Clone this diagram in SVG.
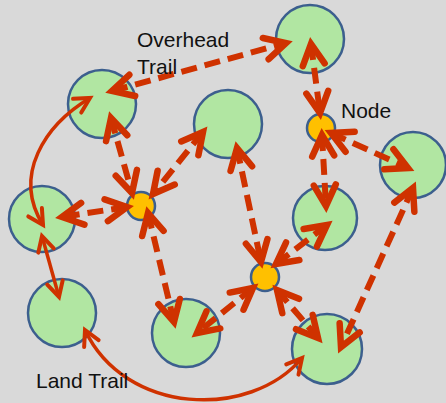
<svg xmlns="http://www.w3.org/2000/svg" width="446" height="403" viewBox="0 0 446 403">
  <defs>
    <style>
      .site { fill: #b1e6a2; stroke: #3c5f8e; stroke-width: 2.5; }
      .hub { fill: #ffc000; stroke: #3c5f8e; stroke-width: 2.5; }
      .dash { fill: none; stroke: #cf3200; stroke-width: 6; stroke-dasharray: 16 8; marker-start: url(#headBig); marker-end: url(#headBig); }
      .land { fill: none; stroke: #cf3200; stroke-width: 3.5; marker-start: url(#headSmall); marker-end: url(#headSmall); }
      .label { font-family: "Liberation Sans", Arial, sans-serif; font-size: 21px; fill: #111; }
    </style>
    <marker id="headBig" markerUnits="userSpaceOnUse" orient="auto-start-reverse" refX="0" refY="0" markerWidth="40" markerHeight="40" overflow="visible">
      <path d="M -21,-11 L 0,0 L -21,11" fill="none" stroke="#cf3200" stroke-width="6.5" stroke-linecap="round" stroke-linejoin="miter"/>
    </marker>
    <marker id="headSmall" markerUnits="userSpaceOnUse" orient="auto-start-reverse" refX="0" refY="0" markerWidth="30" markerHeight="30" overflow="visible">
      <path d="M -15,-8 L 0,0 L -15,8" fill="none" stroke="#cf3200" stroke-width="4" stroke-linecap="round" stroke-linejoin="miter"/>
    </marker>
  </defs>

  <rect width="446" height="403" fill="#d9d9d9"/>

  <!-- sites -->
  <g id="site-top-right"><circle class="site" cx="310" cy="39" r="34"/></g>
  <g id="site-upper-left"><circle class="site" cx="102" cy="104" r="34"/></g>
  <g id="site-upper-middle"><circle class="site" cx="228" cy="124" r="34"/></g>
  <g id="site-right"><circle class="site" cx="413" cy="165" r="33"/></g>
  <g id="site-left"><circle class="site" cx="42" cy="219" r="33"/></g>
  <g id="site-middle-right"><circle class="site" cx="325" cy="218" r="32"/></g>
  <g id="site-lower-left"><circle class="site" cx="62" cy="313" r="34"/></g>
  <g id="site-lower-middle"><circle class="site" cx="186" cy="333" r="34"/></g>
  <g id="site-lower-right"><circle class="site" cx="327" cy="349" r="35"/></g>

  <!-- hubs -->
  <g id="hub-left"><circle class="hub" cx="141" cy="206" r="14"/></g>
  <g id="hub-top"><circle class="hub" cx="321" cy="128" r="14"/></g>
  <g id="hub-bottom"><circle class="hub" cx="265" cy="277" r="14"/></g>

  <!-- trails -->
  <g id="connectors">
    <path class="dash" d="M 112,91 L 286,43"/>
    <path class="dash" d="M 311,44 L 320,113"/>
    <path class="dash" d="M 331,133 L 408,168"/>
    <path class="dash" d="M 322,135 L 326,206"/>
    <path class="dash" d="M 111,118 L 132,193"/>
    <path class="dash" d="M 203,132 L 153,194"/>
    <path class="dash" d="M 127,207 L 62,217"/>
    <path class="dash" d="M 148,213 L 174,322"/>
    <path class="dash" d="M 237,148 L 261,262"/>
    <path class="dash" d="M 327,225 L 276,264"/>
    <path class="dash" d="M 253,288 L 197,333"/>
    <path class="dash" d="M 277,290 L 318,338"/>
    <path class="dash" d="M 413,188 L 341,347"/>
    <path class="land" d="M 43,225 C 12,175 45,125 90,98"/>
    <path class="land" d="M 42,236 L 59,297"/>
    <path class="land" d="M 85,330 C 125,415 250,420 302,358"/>
  </g>

  <!-- captions -->
  <g id="labels">
    <text class="label" x="137" y="47">Overhead</text>
    <text class="label" x="137" y="74">Trail</text>
    <text class="label" x="341" y="118">Node</text>
    <text class="label" x="36" y="388">Land Trail</text>
  </g>
</svg>
